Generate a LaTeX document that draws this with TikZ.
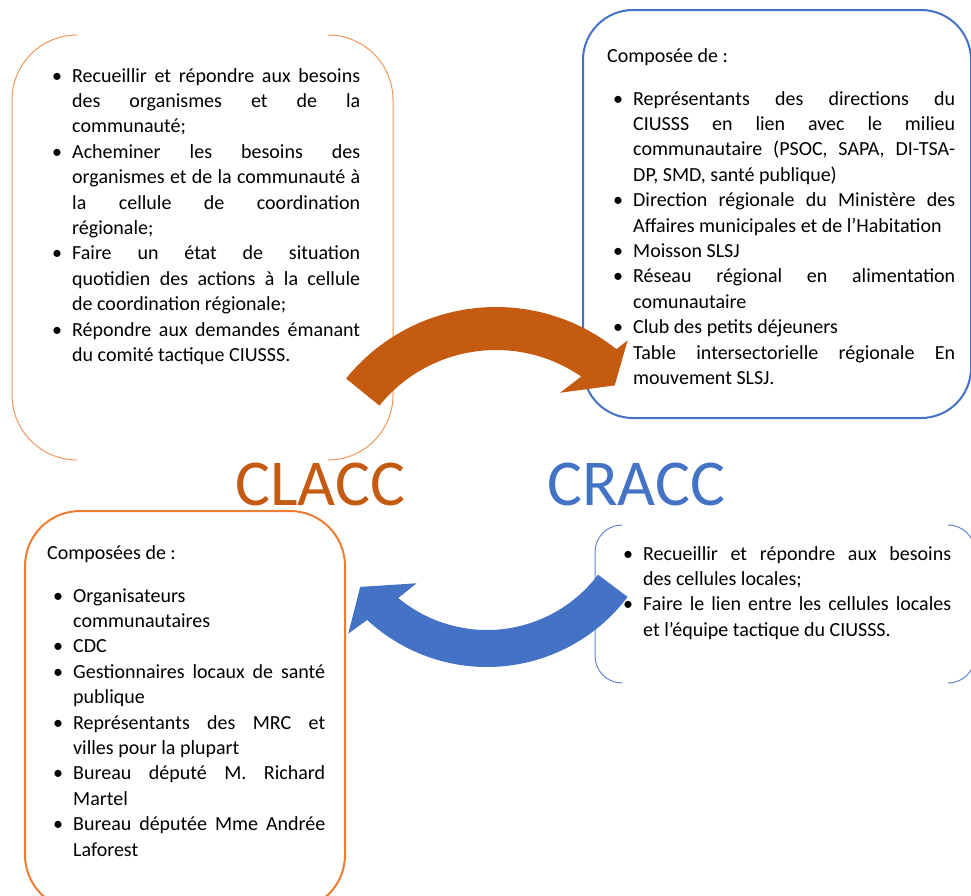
\documentclass[tikz,border=0pt]{standalone}
\usepackage{fontspec}
\setmainfont{Carlito}
\definecolor{clacc}{HTML}{C55A11}
\definecolor{cracc}{HTML}{4472C4}
\definecolor{cadre}{HTML}{ED7D31}
\newcommand{\puce}{\leavevmode\llap{\makebox[30pt][c]{\textbullet}}}
\hyphenpenalty=10000
\tolerance=10000
\hbadness=10000

\begin{document}
\begin{tikzpicture}[x=1pt, y=-1pt,
  liste/.style={anchor=base west, inner sep=0pt, align=justify,
    font=\fontsize{20}{25.4}\selectfont},
  titre/.style={anchor=base west, inner sep=0pt, font=\fontsize{65.5}{70}\selectfont}]
\useasboundingbox (0,0) rectangle (971,895);
\clip (0,0) rectangle (971,895);

% cadres
\draw[cadre!80, line width=1pt] (77,35) arc[start angle=-90, end angle=-180, radius=65] -- (12,395) arc[start angle=180, end angle=90, radius=65];
\draw[cadre!80, line width=1pt] (328,35) arc[start angle=-90, end angle=0, radius=65] -- (393,395) arc[start angle=0, end angle=90, radius=65];
\draw[cracc, line width=2pt, rounded corners=50pt] (583,10) rectangle (971,418);
\draw[cadre, line width=2pt, rounded corners=55pt] (25,511) rectangle (345,910);
\draw[cracc!85, line width=1pt] (622,525) arc[start angle=-90, end angle=-180, radius=27] -- (595,656) arc[start angle=180, end angle=90, radius=27];
\draw[cracc!85, line width=1pt] (948,525) arc[start angle=-90, end angle=0, radius=27] -- (975,656) arc[start angle=0, end angle=90, radius=27];

% fleches
\begin{scope}[shift={(496,500)}]
  \coordinate (centre-or) at (0,0);
  \fill[clacc] (-141:193) arc[start angle=-141, end angle=-51.4, radius=193] -- (-50.5:207) -- (-44:165) -- (-59.1:125) -- (-55.4:150) arc[start angle=-55.4, end angle=-141, radius=150] -- cycle;
\end{scope}
\begin{scope}[shift={(487,491)}]
  \coordinate (centre-bl) at (0,0);
  \fill[cracc] (37:176) arc[start angle=37, end angle=132.9, radius=176] -- (134.2:199) -- (142.9:159) -- (127.3:116) -- (129.7:139) arc[start angle=129.7, end angle=37, radius=139] -- cycle;
\end{scope}

% nodes
\node[liste, text width=288pt] (tl-list) at (72,82) {%
\puce Recueillir et répondre aux besoins \linebreak des organismes et de la \linebreak communauté;\par
\puce Acheminer les besoins des \linebreak organismes et de la communauté à \linebreak la cellule de coordination \linebreak régionale;\par
\puce Faire un état de situation \linebreak quotidien des actions à la cellule \linebreak de coordination régionale;\par
\puce Répondre aux demandes émanant \linebreak du comité tactique CIUSSS.\par};

\node[liste] (tr-head) at (607,62) {Composée de :};
\node[liste, text width=322pt] (tr-list) at (633,105) {%
\puce Représentants des directions du \linebreak CIUSSS en lien avec le milieu \linebreak communautaire (PSOC, SAPA, DI-TSA-\linebreak DP, SMD, santé publique)\par
\puce Direction régionale du Ministère des \linebreak Affaires municipales et de l’Habitation\par
\puce Moisson SLSJ\par
\puce Réseau régional en alimentation \linebreak comunautaire\par
\puce Club des petits déjeuners\par
\leavevmode Table intersectorielle régionale En \linebreak mouvement SLSJ.\par};

\node[liste] (bl-head) at (47,559) {Composées de :};
\node[liste, text width=252pt] (bl-list) at (73,602) {%
\puce Organisateurs \newline communautaires\par
\puce CDC\par
\puce Gestionnaires locaux de santé \linebreak publique\par
\puce Représentants des MRC et \linebreak villes pour la plupart\par
\puce Bureau député M. Richard \linebreak Martel\par
\puce Bureau députée Mme Andrée \linebreak Laforest\par};

\node[liste, text width=308pt] (br-list) at (643,560) {%
\puce Recueillir et répondre aux besoins \linebreak des cellules locales;\par
\puce Faire le lien entre les cellules locales \linebreak et l’équipe tactique du CIUSSS.\par};

\node[titre, text=clacc] (clacc) at (235,505) {CLACC};
\node[titre, text=cracc] (cracc) at (547,505) {CRACC};
\end{tikzpicture}
\end{document}
